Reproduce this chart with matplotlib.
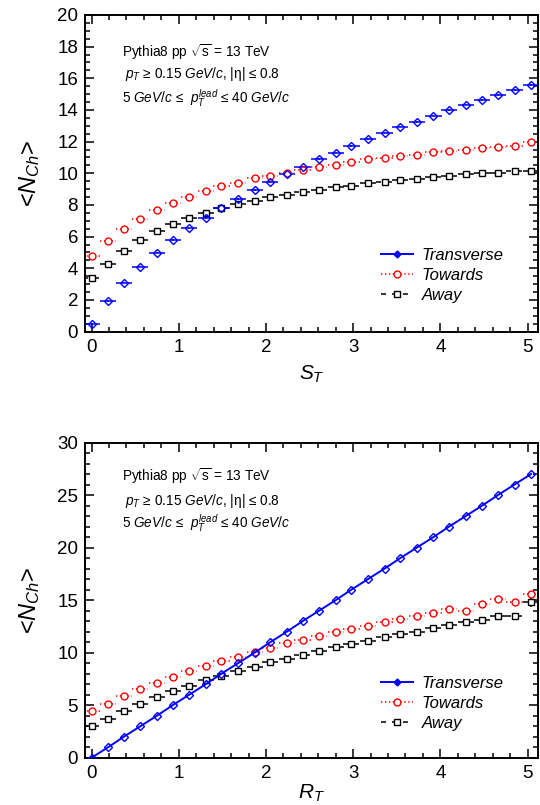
import matplotlib
matplotlib.use("Agg")
import matplotlib.pyplot as plt
from matplotlib.lines import Line2D
from matplotlib.ticker import MultipleLocator

plt.rcParams['font.family'] = ['Liberation Sans', 'DejaVu Sans']
plt.rcParams['mathtext.fontset'] = 'custom'
plt.rcParams['mathtext.rm'] = 'Liberation Sans'
plt.rcParams['mathtext.it'] = 'Liberation Sans:italic'
plt.rcParams['lines.scale_dashes'] = False

# bin centres (same binning for S_T and R_T)
xbins = [0.0, 0.19, 0.37, 0.56, 0.75, 0.93, 1.12, 1.31, 1.49, 1.68, 1.87, 2.05, 2.24, 2.42,
         2.61, 2.80, 2.98, 3.17, 3.36, 3.54, 3.73, 3.92, 4.10, 4.29, 4.48, 4.66, 4.85, 5.04]
half_bin = 0.093

# top panel: vs S_T
st_trans = [0.49, 1.93, 3.10, 4.11, 4.99, 5.80, 6.52, 7.17, 7.80, 8.38, 8.94, 9.44, 9.98, 10.42,
            10.89, 11.31, 11.73, 12.15, 12.57, 12.95, 13.25, 13.65, 13.99, 14.34, 14.64, 14.95, 15.25, 15.58]
st_tow = [4.78, 5.71, 6.49, 7.14, 7.69, 8.15, 8.53, 8.87, 9.18, 9.41, 9.68, 9.85, 10.04, 10.21,
          10.40, 10.55, 10.72, 10.89, 10.99, 11.11, 11.13, 11.35, 11.43, 11.50, 11.60, 11.67, 11.75, 11.98]
st_away = [3.37, 4.30, 5.12, 5.79, 6.34, 6.82, 7.18, 7.50, 7.79, 8.05, 8.28, 8.49, 8.66, 8.81,
           8.97, 9.12, 9.22, 9.37, 9.48, 9.60, 9.64, 9.75, 9.82, 9.94, 10.00, 10.00, 10.13, 10.15]

# bottom panel: vs R_T
rt_trans = [0, 1, 2, 3, 4, 5, 6, 7, 8, 9, 10, 11, 12, 13,
            14, 15, 16, 17, 18, 19, 20, 21, 22, 23, 24, 25, 26, 27]
rt_tow = [4.42, 5.14, 5.85, 6.51, 7.11, 7.71, 8.26, 8.73, 9.21, 9.62, 10.08, 10.45, 10.90, 11.21,
          11.59, 11.97, 12.29, 12.57, 12.92, 13.24, 13.50, 13.78, 14.19, 14.00, 14.67, 15.09, 14.83, 15.56]
rt_away = [2.99, 3.71, 4.45, 5.11, 5.75, 6.35, 6.86, 7.40, 7.81, 8.26, 8.68, 9.09, 9.43, 9.81,
           10.19, 10.51, 10.83, 11.14, 11.47, 11.78, 12.00, 12.38, 12.67, 12.92, 13.14, 13.50, 13.50, 14.80]
rt_away_err = [0.05, 0.05, 0.05, 0.05, 0.05, 0.05, 0.05, 0.05, 0.05, 0.05, 0.05, 0.05, 0.05, 0.05,
               0.05, 0.05, 0.05, 0.1, 0.1, 0.1, 0.1, 0.1, 0.1, 0.15, 0.15, 0.2, 0.2, 0.5]

labels = ['Transverse', 'Towards', 'Away']
dotted = (0, (1.0, 1.8))
dashed = (0, (3.6, 4.3))

fig = plt.figure(figsize=(5.4, 8.05), dpi=100)
ax1 = fig.add_axes([0.1574, 0.588, 0.839, 0.3934])
ax2 = fig.add_axes([0.1574, 0.0587, 0.839, 0.3916])


def draw_points(ax, x, y, color, marker, ms, ls, face, yerr=0.05):
    eb = ax.errorbar(x, y, xerr=half_bin, yerr=yerr, fmt=marker, ms=ms, mfc=face, mec=color,
                     mew=1.0, ecolor=color, elinewidth=1.1, capsize=0, zorder=3)
    eb[2][0].set_linestyle(ls)
    return eb


def style_axes(ax, ymax, ymajor, yminor, xlabel, ylabel_x, xlabel_y):
    ax.set_xlim(-0.075, 5.12)
    ax.set_ylim(0, ymax)
    ax.xaxis.set_major_locator(MultipleLocator(1))
    ax.xaxis.set_minor_locator(MultipleLocator(0.2))
    ax.yaxis.set_major_locator(MultipleLocator(ymajor))
    ax.yaxis.set_minor_locator(MultipleLocator(yminor))
    ax.tick_params(which='both', direction='in', top=True, right=True, labelsize=13.5, width=1.1)
    ax.tick_params(which='major', length=6.5, pad=5)
    ax.tick_params(which='minor', length=3.3)
    for s in ax.spines.values():
        s.set_linewidth(1.4)
    ax.set_ylabel('<$\\mathit{N}_{Ch}$>', fontsize=17)
    ax.yaxis.set_label_coords(ylabel_x, 0.5)
    ax.set_xlabel(xlabel, fontsize=15)
    ax.xaxis.set_label_coords(0.5, xlabel_y)


def legend_and_text(ax, leg_y, text_y):
    handles = [
        Line2D([], [], color='blue', ls='-', lw=1.4, marker='D', ms=3.5, mfc='blue', mec='blue'),
        Line2D([], [], color='red', ls=dotted, lw=1.1, marker='o', ms=5, mfc='white', mec='red'),
        Line2D([], [], color='black', ls=dashed, lw=1.1, marker='s', ms=4, mfc='white', mec='black'),
    ]
    leg = ax.legend(handles, labels, loc='upper left', bbox_to_anchor=(0.653, leg_y), frameon=False,
                    borderpad=0, borderaxespad=0, handlelength=1.95, handletextpad=0.5,
                    labelspacing=0.3, prop={'size': 12, 'style': 'italic'})
    ax.text(0.081, text_y[0], 'Pythia8 pp $\\sqrt{\\mathrm{s}}$ = 13 TeV', transform=ax.transAxes,
            fontsize=9.8, va='center')
    ax.text(0.089, text_y[1], '$p_{T}$ \u2265 0.15 $GeV/c$, |\u03b7| \u2264 0.8', transform=ax.transAxes,
            fontsize=9.8, va='center')
    ax.text(0.081, text_y[2], '5 $GeV/c$ \u2264  $p_{T}^{lead}$ \u2264 40 $GeV/c$', transform=ax.transAxes,
            fontsize=9.8, va='center')
    return leg


# top panel
draw_points(ax1, xbins, st_tow, 'red', 'o', 5, dotted, 'white')
draw_points(ax1, xbins, st_away, 'black', 's', 4.3, dashed, 'white')
draw_points(ax1, xbins, st_trans, 'blue', 'D', 3.6, '-', 'none')
style_axes(ax1, 20, 2, 0.5, '$S_{T}$', -0.095, -0.1)
legend_and_text(ax1, 0.265, [0.883, 0.814, 0.738])

# bottom panel
draw_points(ax2, xbins, rt_tow, 'red', 'o', 5, dotted, 'white')
draw_points(ax2, xbins, rt_away, 'black', 's', 4.3, dashed, 'white', yerr=rt_away_err)
ax2.plot(xbins, rt_trans, color='blue', lw=1.4, marker='D', ms=3.6, mfc='none', mec='blue', mew=1.0, zorder=4)
style_axes(ax2, 30, 5, 1, '$R_{T}$', -0.095, -0.078)
legend_and_text(ax2, 0.26, [0.895, 0.815, 0.745])

fig.savefig('out.png', dpi=100)
